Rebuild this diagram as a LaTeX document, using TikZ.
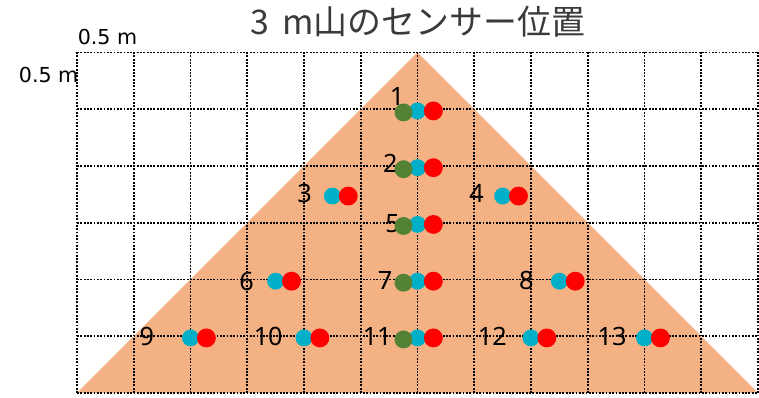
\documentclass[tikz,border=0pt]{standalone}
\usepackage{fontspec}
\setmainfont{Noto Sans}
\newfontfamily\jpfont{Noto Sans CJK JP}
\newfontfamily\dvfont{DejaVu Sans}
\usetikzlibrary{positioning}
\definecolor{hill}{HTML}{F4B183}
\definecolor{sgreen}{HTML}{548235}
\definecolor{scyan}{HTML}{00B0C8}
\definecolor{sred}{HTML}{FF0000}
\definecolor{ttlgray}{HTML}{3A3A3A}
\tikzset{
  gridline/.style={black, line width=1.3pt, dash pattern=on 1.4pt off 1.1pt},
  cdot/.style    ={circle, fill=scyan, inner sep=0pt, minimum size=12.7pt},
  gdot/.style    ={circle, fill=sgreen, inner sep=0pt, minimum size=13.5pt},
  rdot/.style    ={circle, fill=sred, inner sep=0pt, minimum size=14.2pt},
  num/.style     ={inner sep=0pt, text=black, font=\fontsize{19}{21}\selectfont},
  unitlbl/.style ={inner sep=0pt, text=black, font=\dvfont\fontsize{15.5}{18}\selectfont},
  ttlnode/.style ={inner sep=0pt, text=ttlgray, font=\jpfont\fontsize{25.5}{30}\selectfont}
}
\begin{document}
\begin{tikzpicture}[x=1.5cm, y=1.5cm, on grid]
\useasboundingbox (-1.357,-0.088) rectangle (12.018,6.925);

% mountain and grid
\fill[hill] (0,0) -- (6,6) -- (12,0) -- cycle;
\draw[gridline, step=1] (0,0) grid (12,6);

% title and scale
\node[ttlnode] (title) at (6.01,6.54) {3\hspace{0.15em} m山のセンサー位置};
\node[unitlbl] (ux) at (0.537,6.28) {0.5 m};
\node[unitlbl] (uy) at (-0.50,5.61) {0.5 m};

% sensors: number / x / y / label x / label y
\foreach \n/\x/\y/\lx/\ly in {1/6/5/5.64/5.23, 2/6/4/5.52/4.04, 3/4.5/3.5/4.01/3.52,
    4/7.5/3.5/7.04/3.52, 5/6/3/5.56/2.98, 6/3.5/2/2.99/1.96, 7/6/2/5.43/1.99,
    8/8.5/2/7.92/1.98, 9/2/1/1.23/1.0, 10/4/1/3.37/0.99, 11/6/1/5.29/1.0,
    12/8/1/7.32/1.0, 13/10/1/9.43/1.0}{
  \node[num] (l\n) at (\lx,\ly) {\n};
  \node[cdot] (c\n) at (\x,\y-0.03) {};
}
\foreach \n in {1,2,5,7,11}
  \node[gdot, left=3.7mm of c\n, yshift=-0.4mm] (g\n) {};
\foreach \n in {1,...,13}
  \node[rdot, right=4.2mm of c\n] (r\n) {};

\end{tikzpicture}
\end{document}
